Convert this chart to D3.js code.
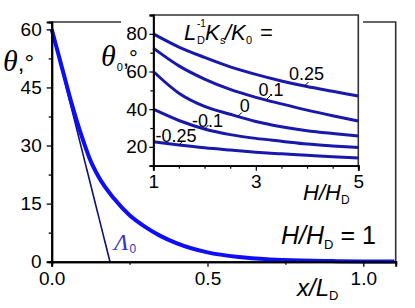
<!DOCTYPE html>
<html>
<head>
<meta charset="utf-8">
<script src="https://cdn.jsdelivr.net/npm/d3@7"></script>
<style>
  body { margin: 0; background: #fff; }
  svg { display: block; }
  text { font-family: "Liberation Sans", Arial, sans-serif; fill: #000; }
</style>
</head>
<body>
<svg id="container" width="415" height="308"></svg>
<script>
// main panel: theta vs x/L_D
const mainX = [0, 0.02, 0.04, 0.06, 0.08, 0.1, 0.12, 0.15, 0.2, 0.25, 0.3, 0.35, 0.4, 0.5, 0.6, 0.7, 0.8, 0.9, 1.0, 1.1];
const mainTheta = [60, 54, 48, 42, 36.5, 31.5, 27, 22, 16.3, 12, 9, 6.6, 4.8, 2.4, 1.2, 0.6, 0.3, 0.15, 0.07, 0.03];
// tangent line Lambda_0
const tangentX = [0, 0.187];
const tangentTheta = [60, 0];

const mainXTicks = [0, 0.5, 1.0];
const mainXMinor = [0.25, 0.75];
const mainYTicks = [0, 15, 30, 45, 60];
const mainYMinor = [7.5, 22.5, 37.5, 52.5];

// inset: theta_0 vs H/H_D for several L_D^-1 K_s / K_0
const insetH = [1, 1.5, 2, 2.5, 3, 3.5, 4, 4.5, 5];
const theta025 = [80, 73, 67.5, 62.5, 58.5, 55, 52, 49.5, 47];
const theta01 = [72.4, 63, 56, 50.5, 46.3, 42.8, 39.5, 36.5, 33.7];
const theta0 = [60, 48.5, 41.5, 37.3, 33.5, 30.7, 28.6, 27.1, 25.8];
const thetaM01 = [40, 34, 29.5, 26.5, 24.5, 23, 21.5, 20.5, 19.7];
const thetaM025 = [22.7, 21, 19.5, 18.3, 17.2, 16.3, 15.5, 14.7, 14.1];
const insetLabels = ["0.25", "0.1", "0", "-0.1", "-0.25"];

const insetXTicks = [1, 3, 5];
const insetXMinor = [1.5, 2, 2.5, 3.5, 4, 4.5];
const insetYTicks = [20, 40, 60, 80];
const insetYMinor = [30, 50, 70];

const svg = d3.select("#container");

const x = d3.scaleLinear().domain([0, 1.104]).range([51.7, 395.7]);
const y = d3.scaleLinear().domain([0, 61.9]).range([261.7, 22]);

// frame (top + right)
svg.append("path")
  .attr("d", `M${x(0)},${y(61.9)}H${x(1.104)}V${y(0)}`)
  .attr("fill", "none")
  .attr("stroke", "#333")
  .attr("stroke-width", 1.6);

const line = d3.line().x((d) => x(d[0])).y((d) => y(d[1]));

svg.append("path")
  .datum(tangentX.map((v, i) => [v, tangentTheta[i]]))
  .attr("d", line)
  .attr("fill", "none")
  .attr("stroke", "#10107a")
  .attr("stroke-width", 1.6);

svg.append("path")
  .datum(mainX.map((v, i) => [v, mainTheta[i]]))
  .attr("d", line.curve(d3.curveMonotoneX))
  .attr("fill", "none")
  .attr("stroke", "#0d0dfa")
  .attr("stroke-width", 4);

// axes
const fmt1 = d3.format(".1f");
svg.append("g")
  .attr("transform", `translate(0,${y(0)})`)
  .call(d3.axisBottom(x).tickValues(mainXMinor).tickSize(3).tickFormat(""));
svg.append("g")
  .attr("transform", `translate(0,${y(0)})`)
  .call(d3.axisBottom(x).tickValues(mainXTicks).tickSize(5).tickPadding(5).tickFormat(fmt1));
svg.append("g")
  .attr("transform", `translate(${x(0)},0)`)
  .call(d3.axisLeft(y).tickValues(mainYMinor).tickSize(3).tickFormat(""));
svg.append("g")
  .attr("transform", `translate(${x(0)},0)`)
  .call(d3.axisLeft(y).tickValues(mainYTicks).tickSize(5).tickPadding(5).tickFormat(d3.format("d")));

svg.selectAll(".domain").attr("stroke", "#000").attr("stroke-width", 2);
svg.selectAll(".tick line").attr("stroke", "#000").attr("stroke-width", 1.3);
svg.selectAll(".tick text")
  .attr("font-family", "Liberation Sans, Arial, sans-serif")
  .attr("font-size", 19);

// main axis labels
const ylab = svg.append("text").attr("x", 3).attr("y", 71);
ylab.append("tspan")
  .attr("font-family", "Liberation Serif, serif")
  .attr("font-style", "italic")
  .attr("font-size", 30)
  .text("θ");
ylab.append("tspan").attr("font-size", 24).text(",°");

const xlab = svg.append("text").attr("x", 297).attr("y", 296).attr("font-size", 24);
xlab.append("tspan").attr("font-style", "italic").text("x/L");
xlab.append("tspan").attr("font-size", 13).attr("dy", 4).text("D");

const hlab = svg.append("text").attr("x", 281).attr("y", 244).attr("font-size", 25);
hlab.append("tspan").attr("font-style", "italic").text("H/H");
hlab.append("tspan").attr("font-size", 13).attr("dy", 5).text("D");
hlab.append("tspan").attr("dy", -5).text(" = 1");

const lam = svg.append("text")
  .attr("x", 114)
  .attr("y", 250)
  .style("fill", "#3434c4");
lam.append("tspan")
  .attr("font-family", "Liberation Serif, serif")
  .attr("font-style", "italic")
  .attr("font-size", 24)
  .text("Λ");
lam.append("tspan").attr("font-size", 12).attr("dx", 1).attr("dy", 3).text("0");

// ---- inset ----
svg.append("rect")
  .attr("x", 121)
  .attr("y", 0)
  .attr("width", 242)
  .attr("height", 203)
  .attr("fill", "#fff");

const ix = d3.scaleLinear().domain([1, 5]).range([153.3, 358.3]);
const iy = d3.scaleLinear().domain([10, 90]).range([165.7, 15]);

const inset = svg.append("g");

inset.append("path")
  .attr("d", `M${ix(1)},${iy(90)}H${ix(5)}V${iy(10)}`)
  .attr("fill", "none")
  .attr("stroke", "#333")
  .attr("stroke-width", 1.6);

const iline = d3.line()
  .x((d) => ix(d[0]))
  .y((d) => iy(d[1]))
  .curve(d3.curveMonotoneX);

const insetSeries = [theta025, theta01, theta0, thetaM01, thetaM025];

inset.selectAll(".curve")
  .data(insetSeries)
  .enter()
  .append("path")
  .attr("class", "curve")
  .attr("d", (s) => iline(insetH.map((h, i) => [h, s[i]])))
  .attr("fill", "none")
  .attr("stroke", "#1818ac")
  .attr("stroke-width", 3);

inset.append("g")
  .attr("transform", `translate(0,${iy(10)})`)
  .call(d3.axisBottom(ix).tickValues(insetXMinor).tickSize(3).tickFormat(""));
inset.append("g")
  .attr("transform", `translate(0,${iy(10)})`)
  .call(d3.axisBottom(ix).tickValues(insetXTicks).tickSize(5).tickPadding(4).tickFormat(d3.format("d")));
inset.append("g")
  .attr("transform", `translate(${ix(1)},0)`)
  .call(d3.axisLeft(iy).tickValues(insetYMinor).tickSize(3).tickFormat(""));
inset.append("g")
  .attr("transform", `translate(${ix(1)},0)`)
  .call(d3.axisLeft(iy).tickValues(insetYTicks).tickSize(4).tickPadding(2).tickFormat(d3.format("d")));

inset.selectAll(".domain").attr("stroke", "#000").attr("stroke-width", 1.8);
inset.selectAll(".tick line").attr("stroke", "#000").attr("stroke-width", 1.2);
inset.selectAll(".tick text")
  .attr("font-family", "Liberation Sans, Arial, sans-serif")
  .attr("font-size", 19);

// curve labels with short leaders
const labelAt = [3.95, 3.2, 2.65, 2.0, 1.5];
const labelShift = [[2, -6], [5, -4], [7, -4], [3, -2], [-3, -3]];
insetSeries.forEach((s, k) => {
  const h = labelAt[k];
  const j = d3.bisectRight(insetH, h) - 1;
  const t = (h - insetH[j]) / (insetH[j + 1] - insetH[j]);
  const cx = ix(h);
  const cy = iy(s[j] + t * (s[j + 1] - s[j]));
  inset.append("line")
    .attr("x1", cx)
    .attr("y1", cy)
    .attr("x2", cx + 4)
    .attr("y2", cy - 4)
    .attr("stroke", "#000")
    .attr("stroke-width", 1);
  inset.append("text")
    .attr("x", cx + labelShift[k][0])
    .attr("y", cy + labelShift[k][1])
    .attr("text-anchor", "middle")
    .attr("font-size", 18)
    .text(insetLabels[k]);
});

// inset axis labels
const iylab = svg.append("text").attr("x", 101).attr("y", 66);
iylab.append("tspan")
  .attr("font-family", "Liberation Serif, serif")
  .attr("font-style", "italic")
  .attr("font-size", 30)
  .text("θ");
iylab.append("tspan").attr("font-size", 11).attr("dx", 1).attr("dy", 5).text("0");
iylab.append("tspan").attr("font-size", 22).attr("dy", -5).text(",°");

const ixlab = svg.append("text").attr("x", 303).attr("y", 200).attr("font-size", 22);
ixlab.append("tspan").attr("font-style", "italic").text("H/H");
ixlab.append("tspan").attr("font-size", 12).attr("dy", 4).text("D");

const klab = svg.append("text").attr("font-size", 22);
klab.append("tspan").attr("x", 184).attr("y", 40).attr("font-style", "italic").text("L");
klab.append("tspan").attr("x", 197).attr("y", 27).attr("font-size", 10).text("-1");
klab.append("tspan").attr("x", 197).attr("y", 44).attr("font-size", 11).text("D");
klab.append("tspan").attr("x", 205).attr("y", 40).attr("font-style", "italic").text("K");
klab.append("tspan").attr("x", 220).attr("y", 44).attr("font-size", 11).text("s");
klab.append("tspan").attr("x", 225).attr("y", 40).attr("font-style", "italic").text("/K");
klab.append("tspan").attr("x", 246).attr("y", 44).attr("font-size", 11).text("0");
klab.append("tspan").attr("x", 260).attr("y", 40).text("=");
</script>
</body>
</html>
